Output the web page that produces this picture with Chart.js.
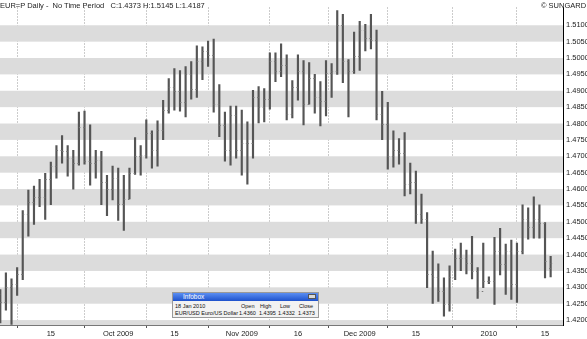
<!DOCTYPE html>
<html>
<head>
<meta charset="utf-8">
<script src="https://cdn.jsdelivr.net/npm/chart.js@4.4.1/dist/chart.umd.min.js"></script>
<style>
  body { margin: 0; background: #fff; font-family: "Liberation Sans", Arial, sans-serif; }
  #wrap { position: relative; width: 587px; height: 339px; }
  .lbl { position: absolute; font-size: 7.5px; color: #222; white-space: pre; line-height: 9px; }
  #infobox { position: absolute; left: 172px; top: 292px; width: 147px; height: 26px; background: #f2f2f2; border: 1px solid #999; box-sizing: border-box; font-size: 5.5px; color: #111; }
  #infobox .bar { position: absolute; left: 0; top: 0; right: 0; height: 8px; background: linear-gradient(#5a8ef2, #1e52cc); color: #fff; line-height: 8px; font-size: 6.5px; }
  #infobox .bar span { position: absolute; left: 10px; top: 0; }
  #infobox .x { position: absolute; right: 2px; top: 1px; width: 8px; height: 5px; background: #d8d8d8; border: 1px solid #555; box-sizing: border-box; }
  #infobox .t { position: absolute; white-space: nowrap; line-height: 7px; }
</style>
</head>
<body>
<div id="wrap">
  <canvas id="chart" width="587" height="339"></canvas>
  <div class="lbl" style="left:0;top:1px;">EUR=P Daily -  No Time Period   C:1.4373 H:1.5145 L:1.4187</div>
  <div class="lbl" style="left:541px;top:1px;">© SUNGARD</div>
  <div id="infobox">
    <div class="bar"><span>Infobox</span><div class="x"></div></div>
    <div class="t" style="left:2px;top:10px;">18 Jan 2010</div>
    <div class="t" style="left:68px;top:10px;">Open</div>
    <div class="t" style="left:87px;top:10px;">High</div>
    <div class="t" style="left:107px;top:10px;">Low</div>
    <div class="t" style="left:126px;top:10px;">Close</div>
    <div class="t" style="left:2px;top:17px;">EUR/USD Euro/US Dollar</div>
    <div class="t" style="left:66px;top:17px;">1.4360</div>
    <div class="t" style="left:86px;top:17px;">1.4395</div>
    <div class="t" style="left:105px;top:17px;">1.4332</div>
    <div class="t" style="left:125px;top:17px;">1.4373</div>
  </div>
</div>
<script>
// daily EUR/USD bars, Sep 2 2009 - Jan 18 2010 (weekdays)
const dates = [
  'Sep 2','Sep 3','Sep 4','Sep 7','Sep 8','Sep 9','Sep 10','Sep 11','Sep 14','Sep 15',
  'Sep 16','Sep 17','Sep 18','Sep 21','Sep 22','Sep 23','Sep 24','Sep 25','Sep 28','Sep 29',
  'Sep 30','Oct 1','Oct 2','Oct 5','Oct 6','Oct 7','Oct 8','Oct 9','Oct 12','Oct 13',
  'Oct 14','Oct 15','Oct 16','Oct 19','Oct 20','Oct 21','Oct 22','Oct 23','Oct 26','Oct 27',
  'Oct 28','Oct 29','Oct 30','Nov 2','Nov 3','Nov 4','Nov 5','Nov 6','Nov 9','Nov 10',
  'Nov 11','Nov 12','Nov 13','Nov 16','Nov 17','Nov 18','Nov 19','Nov 20','Nov 23','Nov 24',
  'Nov 25','Nov 26','Nov 27','Nov 30','Dec 1','Dec 2','Dec 3','Dec 4','Dec 7','Dec 8',
  'Dec 9','Dec 10','Dec 11','Dec 14','Dec 15','Dec 16','Dec 17','Dec 18','Dec 21','Dec 22',
  'Dec 23','Dec 24','Dec 25','Dec 28','Dec 29','Dec 30','Dec 31','Jan 1','Jan 4','Jan 5',
  'Jan 6','Jan 7','Jan 8','Jan 11','Jan 12','Jan 13','Jan 14','Jan 15','Jan 18'
];
const highs = [
  1.4293,1.4344,1.4326,1.4360,1.4534,1.4597,1.4609,1.4630,1.4648,1.4682,
  1.4733,1.4763,1.4733,1.4718,1.4835,1.4838,1.4796,1.4718,1.4715,1.4642,
  1.4670,1.4664,1.4642,1.4664,1.4757,1.4733,1.4811,1.4778,1.4808,1.4871,
  1.4937,1.4968,1.4962,1.4974,1.4989,1.5037,1.5034,1.5052,1.5058,1.4919,
  1.4835,1.4853,1.4853,1.4841,1.4805,1.4901,1.4913,1.4907,1.5016,1.5016,
  1.5043,1.5010,1.4931,1.5010,1.4992,1.4986,1.4950,1.4928,1.4992,1.4983,
  1.5145,1.5133,1.4995,1.5079,1.5112,1.5103,1.5133,1.5085,1.4898,1.4865,
  1.4778,1.4754,1.4772,1.4679,1.4655,1.4585,1.4528,1.4411,1.4372,1.4329,
  1.4366,1.4417,1.4435,1.4414,1.4456,1.4360,1.4435,1.4332,1.4453,1.4480,
  1.4432,1.4444,1.4435,1.4552,1.4543,1.4576,1.4552,1.4498,1.4395
];
const lows = [
  1.4191,1.4230,1.4187,1.4275,1.4323,1.4456,1.4492,1.4546,1.4507,1.4552,
  1.4633,1.4679,1.4639,1.4600,1.4673,1.4676,1.4612,1.4633,1.4552,1.4519,
  1.4567,1.4504,1.4474,1.4570,1.4645,1.4642,1.4694,1.4664,1.4670,1.4751,
  1.4832,1.4841,1.4838,1.4820,1.4874,1.4880,1.4934,1.4974,1.4835,1.4760,
  1.4685,1.4673,1.4694,1.4642,1.4615,1.4694,1.4802,1.4805,1.4844,1.4928,
  1.4943,1.4811,1.4817,1.4871,1.4796,1.4859,1.4832,1.4793,1.4823,1.4880,
  1.4950,1.4925,1.4820,1.4953,1.4962,1.5022,1.5028,1.4811,1.4751,1.4661,
  1.4667,1.4676,1.4579,1.4585,1.4495,1.4495,1.4299,1.4251,1.4257,1.4212,
  1.4227,1.4323,1.4351,1.4341,1.4326,1.4266,1.4299,1.4311,1.4248,1.4338,
  1.4278,1.4263,1.4254,1.4402,1.4447,1.4450,1.4450,1.4329,1.4332
];
const opens = [
  1.4280,1.4255,1.4300,1.4310,1.4340,1.4525,1.4560,1.4575,1.4575,1.4630,
  1.4670,1.4720,1.4715,1.4695,1.4680,1.4790,1.4685,1.4680,1.4690,1.4620,
  1.4600,1.4635,1.4555,1.4570,1.4650,1.4700,1.4705,1.4770,1.4720,1.4780,
  1.4840,1.4910,1.4900,1.4865,1.4950,1.4905,1.4990,1.5020,1.5010,1.4860,
  1.4795,1.4720,1.4825,1.4720,1.4740,1.4740,1.4880,1.4850,1.4875,1.4990,
  1.4960,1.4980,1.4830,1.4910,1.4960,1.4860,1.4940,1.4880,1.4870,1.4955,
  1.4960,1.5100,1.4990,1.4960,1.5005,1.5085,1.5060,1.5055,1.4830,1.4800,
  1.4700,1.4720,1.4710,1.4615,1.4620,1.4525,1.4510,1.4340,1.4330,1.4290,
  1.4250,1.4330,1.4390,1.4390,1.4375,1.4350,1.4290,1.4320,1.4320,1.4410,
  1.4370,1.4410,1.4310,1.4410,1.4510,1.4485,1.4510,1.4495,1.4360
];
const closes = [
  1.4255,1.4300,1.4310,1.4340,1.4525,1.4560,1.4575,1.4575,1.4630,1.4670,
  1.4720,1.4715,1.4695,1.4680,1.4790,1.4685,1.4680,1.4690,1.4620,1.4600,
  1.4635,1.4555,1.4570,1.4650,1.4700,1.4705,1.4770,1.4720,1.4780,1.4840,
  1.4910,1.4900,1.4865,1.4950,1.4905,1.4990,1.5020,1.5010,1.4860,1.4795,
  1.4720,1.4825,1.4720,1.4740,1.4740,1.4880,1.4850,1.4875,1.4990,1.4960,
  1.4980,1.4830,1.4910,1.4960,1.4860,1.4940,1.4880,1.4870,1.4955,1.4960,
  1.5100,1.4990,1.4960,1.5005,1.5085,1.5060,1.5055,1.4830,1.4800,1.4700,
  1.4720,1.4710,1.4615,1.4620,1.4525,1.4510,1.4340,1.4330,1.4290,1.4250,
  1.4330,1.4390,1.4390,1.4375,1.4350,1.4290,1.4320,1.4320,1.4410,1.4370,
  1.4410,1.4310,1.4410,1.4510,1.4485,1.4510,1.4495,1.4380,1.4373
];

const xTickDates = ['Sep 15','Oct 1','Oct 15','Nov 2','Nov 16','Dec 1','Dec 15','Jan 1','Jan 15'];
const xTickLabels = ['15','Oct 2009','15','Nov 2009','16','Dec 2009','15','2010','15'];
const yTicks = [1.42,1.425,1.43,1.435,1.44,1.445,1.45,1.455,1.46,1.465,
                1.47,1.475,1.48,1.485,1.49,1.495,1.50,1.505,1.51];

const xTickIdx = xTickDates.map(d => dates.indexOf(d));

// alternating grey bands behind the bars
const bandPlugin = {
  id: 'bands',
  beforeDatasetsDraw(chart) {
    const {ctx, chartArea, scales: {y}} = chart;
    ctx.save();
    ctx.fillStyle = '#dcdcdc';
    for (let i = -1; i < yTicks.length - 1; i += 2) {
      const lo = i < 0 ? y.min : yTicks[i];
      const hi = i < 0 ? yTicks[0] : yTicks[i + 1];
      const top = y.getPixelForValue(hi), bot = y.getPixelForValue(lo);
      ctx.fillRect(chartArea.left, top, chartArea.right - chartArea.left, bot - top);
    }
    ctx.restore();
  }
};

// open tick on the left, close tick on the right (very small in the original)
const ohlcTicks = {
  id: 'ohlcTicks',
  afterDatasetsDraw(chart) {
    const {ctx, scales: {x, y}} = chart;
    ctx.save();
    ctx.strokeStyle = '#777';
    ctx.lineWidth = 1;
    ctx.beginPath();
    dates.forEach((d, i) => {
      const px = x.getPixelForValue(i);
      const yo = Math.round(y.getPixelForValue(opens[i])) + 0.5;
      const yc = Math.round(y.getPixelForValue(closes[i])) + 0.5;
      ctx.moveTo(px - 1.5, yo); ctx.lineTo(px, yo);
      ctx.moveTo(px, yc); ctx.lineTo(px + 1.5, yc);
    });
    ctx.stroke();
    ctx.restore();
  }
};

new Chart(document.getElementById('chart'), {
  type: 'bar',
  data: {
    datasets: [{
      data: dates.map((d, i) => ({ x: i, y: [lows[i], highs[i]] })),
      backgroundColor: '#555',
      borderWidth: 0,
      barThickness: 1.5,
      grouped: false
    }]
  },
  options: {
    responsive: false,
    animation: false,
    devicePixelRatio: 1,
    layout: { padding: { top: 3, left: 0, right: 0, bottom: 0 } },
    plugins: { legend: { display: false }, tooltip: { enabled: false } },
    scales: {
      x: {
        type: 'linear',
        min: -0.05,
        max: 100.2,
        offset: false,
        afterBuildTicks: s => { s.ticks = xTickIdx.map(v => ({ value: v })); },
        afterFit: s => { s.height = 14; },
        ticks: {
          autoSkip: false,
          maxRotation: 0,
          padding: 1,
          color: '#222',
          font: { family: 'Liberation Sans, Arial', size: 7.5 },
          callback: v => xTickLabels[xTickIdx.indexOf(v)]
        },
        grid: { color: '#999', lineWidth: 1, drawTicks: true, tickLength: 3, tickColor: '#555', tickBorderDash: [] },
        border: { display: true, color: '#777', dash: [1, 2] }
      },
      y: {
        position: 'right',
        min: 1.41850,
        max: 1.51542,
        afterBuildTicks: s => { s.ticks = yTicks.map(v => ({ value: v })); },
        afterFit: s => { s.width = 24; },
        ticks: {
          padding: 3,
          color: '#222',
          font: { family: 'Liberation Sans, Arial', size: 7.5 },
          callback: v => v.toFixed(4)
        },
        grid: { display: false, drawTicks: false },
        border: { display: true, color: '#000', width: 1 }
      }
    }
  },
  plugins: [bandPlugin, ohlcTicks]
});
</script>
</body>
</html>
